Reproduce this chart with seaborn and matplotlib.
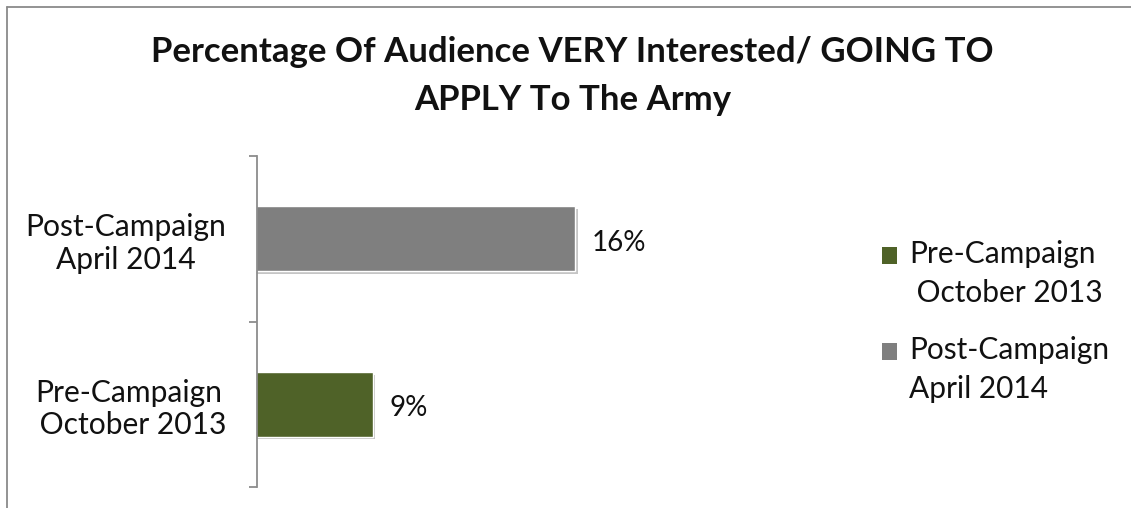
import numpy as np
import pandas as pd
import matplotlib
matplotlib.use("Agg")
import matplotlib.pyplot as plt
import seaborn as sns
from matplotlib.lines import Line2D
from matplotlib.patches import Rectangle, Patch
from matplotlib.legend_handler import HandlerPatch
import matplotlib.patheffects as pe

# ---- data ----
title = "Percentage Of Audience VERY Interested/ GOING TO\nAPPLY To The Army"
categories = ["Post-Campaign\nApril 2014", "Pre-Campaign\n October 2013"]
values = [16, 9]
value_labels = ["16%", "9%"]
legend_order = ["Pre-Campaign\n October 2013", "Post-Campaign\nApril 2014"]
colors = {"Post-Campaign\nApril 2014": "#7F7F7F",
          "Pre-Campaign\n October 2013": "#4F6228"}
x_min, x_max = 5, 26

sns.set_theme(style="white")
plt.rcParams["font.family"] = ["Lato", "DejaVu Sans"]

fig = plt.figure(figsize=(11.31, 5.08), dpi=100)
ax = fig.add_axes([0.2272, 0.0413, 0.5366, 0.6516])

df = pd.DataFrame({"label": categories, "value": values})
sns.barplot(data=df, x="value", y="label", hue="label", order=categories,
            hue_order=legend_order, palette=colors, width=0.39, ax=ax,
            legend=False, saturation=1)

for p in ax.patches:
    p.set_path_effects([pe.SimplePatchShadow(offset=(2, -2), alpha=0.25, shadow_rgbFace="k"),
                        pe.Normal()])

for i, (v, lab) in enumerate(zip(values, value_labels)):
    ax.annotate(lab, xy=(v, i), xytext=(12, -3), textcoords="offset points",
                ha="left", va="center", fontsize=20, color="#111111")

ax.set_xlim(x_min, x_max)
ax.set_xticks([])
ax.set_xlabel("")
ax.set_ylabel("")
for s in ["top", "right", "bottom"]:
    ax.spines[s].set_visible(False)
ax.spines["left"].set_color("#8c8c8c")
ax.spines["left"].set_linewidth(1.3)
ax.set_yticks([-0.5, 0.5, 1.5], minor=True)
ax.tick_params(axis="y", which="major", left=True, length=0, pad=22,
               labelsize=21.6, labelcolor="#111111")
ax.tick_params(axis="y", which="minor", left=True, length=6, width=1.3,
               color="#8c8c8c", direction="out")
for t in ax.get_yticklabels():
    t.set_multialignment("center")
    t.set_linespacing(1.2)

# legend
line_off = 14


def sq(legend, orig_handle, xdescent, ydescent, width, height, fontsize):
    return Rectangle((-xdescent, -ydescent + line_off), width, height)


handles = [Patch(facecolor=colors[l], edgecolor="none") for l in legend_order]
leg = ax.legend(handles, legend_order, loc="upper left",
                bbox_to_anchor=(882 / 1131, 1 - 240 / 508),
                bbox_transform=fig.transFigure, frameon=False, fontsize=21.5,
                handlelength=0.5, handleheight=0.5, handletextpad=0.42,
                labelspacing=0.95, borderpad=0, borderaxespad=0,
                handler_map={h: HandlerPatch(patch_func=sq) for h in handles})
for t in leg.get_texts():
    t.set_linespacing(1.5)
    t.set_color("#111111")

fig.text(0.506, 0.851, title, ha="center", va="center", fontsize=25,
         fontweight="bold", linespacing=1.62, color="#111111")

fig.add_artist(Line2D([7 / 1131, 1.0], [1 - 7 / 508] * 2, transform=fig.transFigure,
                      color="#8a8a8a", lw=1.3))
fig.add_artist(Line2D([7 / 1131] * 2, [0, 1 - 7 / 508], transform=fig.transFigure,
                      color="#8a8a8a", lw=1.3))

fig.savefig("out.png", dpi=100)
